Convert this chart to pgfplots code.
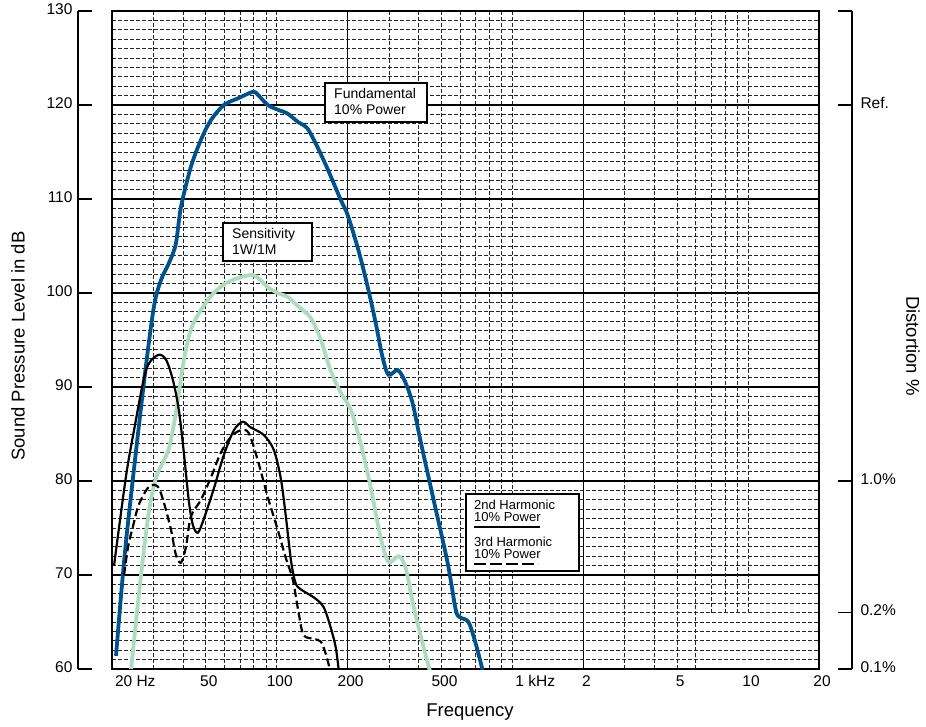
\documentclass[border=0pt]{standalone}
\usepackage{pgfplots}
\pgfplotsset{compat=1.18}
\usepackage{fontspec}
\setmainfont{Liberation Sans}
\definecolor{fundblue}{RGB}{0,82,140}
\definecolor{sensgreen}{RGB}{172,220,190}
\newcommand{\tickfont}{\fontsize{15.5}{18}\selectfont}
\newcommand{\labfont}{\fontsize{18.5}{21}\selectfont}
\newcommand{\boxfont}{\fontsize{14}{16}\selectfont}
\newcommand{\legfont}{\fontsize{13}{13}\selectfont}

\begin{document}
\begin{tikzpicture}
\path (-112pt,-57pt) rectangle (814pt,669pt);
\begin{axis}[
  name=main, at={(0pt,0pt)}, anchor=south west,
  scale only axis, width=707pt, height=658pt,
  xmode=log, xmin=20, xmax=20000, ymin=60, ymax=130,
  xtick={200,2000}, xticklabels={,,},
  minor xtick={30,40,50,60,70,80,90,100,300,400,500,600,700,800,900,1000,3000,4000,5000,6000},
  extra x ticks={20,50,100,200,500,1000,2000,5000,10000,20000},
  extra x tick labels={\rlap{20 Hz},50,100,200,500,\rlap{1 kHz},2,5,10,20},
  extra x tick style={grid=none},
  xticklabel style={font=\tickfont, xshift=3pt, yshift=-3pt},
  ytick={60,70,...,130}, yticklabels={,,},
  minor y tick num=9,
  major tick length=0pt, minor tick length=0pt,
  grid=both,
  major grid style={black, line width=1.1pt},
  minor grid style={black!85, line width=0.8pt, dash pattern=on 4pt off 2pt},
  axis line style={line width=2.6pt},
]
\draw[black!85, line width=0.8pt, dash pattern=on 4pt off 2pt]
  (axis cs:7000,66) -- (axis cs:7000,130)
  (axis cs:8000,66) -- (axis cs:8000,130)
  (axis cs:9000,66) -- (axis cs:9000,130)
  (axis cs:10000,66) -- (axis cs:10000,130);
% Sensitivity 1W/1M
\addplot[sensgreen, line width=3.8pt, smooth] coordinates {
(24.1,60) (26.5,69.8) (28.7,76.8) (30.9,80.5) (34.7,83.3) (37.3,87.2) (40.2,92.6)
(43.2,96.1) (47.7,98.2) (54.1,100.0) (62.6,101.2) (79.2,101.9) (91.6,100.6)
(101,100.0) (111,99.6) (123,98.6) (139,97.4) (154,95.0) (169,91.8) (187,89.4)
(206,87.6) (227,84.0) (250,79.4) (276,74.0) (298,71.4) (329,72.0) (352,70.8)
(381,66.6) (420,62.3) (449,59.6)};
% Fundamental 10% power
\addplot[fundblue, line width=3.8pt, smooth] coordinates {
(20.8,61.4) (22.9,73.4) (27.3,90.4) (30.1,98.5) (32.3,101.4) (34.9,103.2)
(37.3,105.2) (39.2,109.1) (43.2,113.4) (47.7,116.3) (52.6,118.4) (59.7,120.0)
(68.4,120.7) (79.2,121.4) (83.1,121.1) (91.6,120.0) (101,119.5) (111,119.1)
(123,118.2) (135,117.5) (149,115.5) (165,113.1) (187,109.9) (200,108.3)
(223,104.4) (245,100.3) (263,96.8) (281,93.2) (298,91.3) (326,91.8) (350,90.6)
(377,88.3) (408,84.2) (463,78.0) (531,71.3) (575,66.3) (600,65.5) (651,65.0)
(697,62.8) (747,59.9)};
% 2nd harmonic
\addplot[black, line width=2.2pt, smooth] coordinates {
(20.4,71.0) (22.9,80.4) (24.8,85.4) (27.9,91.8) (31.3,93.4) (33.9,92.9)
(36.3,90.7) (38.4,87.6) (40.2,83.4) (42.4,77.8) (44.1,75.3) (46.3,74.5)
(49.1,76.0) (54.1,79.2) (59.7,82.8) (65.8,85.4) (71.8,86.3) (77.6,85.7)
(88.1,84.9) (97.2,83.3) (104,80.3) (109,76.5) (115,71.5) (120,69.2) (126,68.5)
(144,67.6) (158,66.6) (169,64.5) (178,62.3) (183,60.0)};
% 3rd harmonic
\addplot[black, line width=2.2pt, smooth, dash pattern=on 8pt off 4pt] coordinates {
(22.5,70.0) (23.4,73.0) (24.5,75.1) (26.0,77.5) (28.7,79.4) (31.3,79.4)
(33.2,77.7) (35.6,74.8) (37.3,72.2) (39.2,71.3) (41.2,73.0) (43.2,76.2)
(47.7,78.0) (52.6,80.4) (57.9,83.0) (63.9,84.7) (70.4,85.4) (76.1,85.1)
(83.1,82.2) (91.6,78.3) (101,74.8) (109,71.9) (117,69.5) (124,65.9)
(130,63.6) (144,63.2) (154,62.9) (161,61.7) (168,60.0)};
\end{axis}

% left dB scale
\begin{axis}[
  at={(-34pt,0pt)}, anchor=south west,
  scale only axis, width=14pt, height=658pt,
  xmin=0, xmax=1, ymin=60, ymax=130,
  axis x line=none, axis y line=left,
  axis line style={-, line width=1.2pt},
  ytick={60,70,...,130},
  yticklabels={60,70,80,90,100,110,120,130},
  tick align=inside, major tick length=14pt,
  tick style={line width=1.2pt, black},
  yticklabel style={font=\tickfont, xshift=-2pt, yshift=2pt},
]
\end{axis}

% right distortion scale
\begin{axis}[
  at={(726pt,0pt)}, anchor=south west,
  scale only axis, width=14pt, height=658pt,
  xmin=0, xmax=1, ymin=60, ymax=130,
  axis x line=none, axis y line=right,
  axis line style={-, line width=1.2pt},
  ytick={60,66.0206,80,120,130},
  yticklabels={0.1\%,0.2\%,1.0\%,Ref.,{}},
  tick align=inside, major tick length=14pt,
  tick style={line width=1.2pt, black},
  yticklabel style={font=\tickfont, xshift=5pt, yshift=2pt},
]
\end{axis}

% axis titles
\node[font=\labfont] at (358pt,-43pt) {Frequency};
\node[font=\labfont, rotate=90] at (-94pt,323pt) {Sound Pressure Level in dB};
\node[font=\labfont, rotate=-90] at (801pt,323pt) {Distortion \%};

% annotation boxes
\draw[line width=2pt, fill=white] (213pt,547pt) rectangle (315pt,586pt);
\node[font=\boxfont, anchor=base west, inner sep=0pt] at (222pt,570pt) {Fundamental};
\node[font=\boxfont, anchor=base west, inner sep=0pt] at (222pt,554pt) {10\% Power};

\draw[line width=2pt, fill=white] (111pt,408pt) rectangle (200pt,446pt);
\node[font=\boxfont, anchor=base west, inner sep=0pt] at (120pt,430pt) {Sensitivity};
\node[font=\boxfont, anchor=base west, inner sep=0pt] at (120pt,414pt) {1W/1M};

% legend
\draw[line width=2.2pt, fill=white] (354pt,98pt) rectangle (467pt,175pt);
\node[font=\legfont, anchor=base west, inner sep=0pt] at (362pt,160pt) {2nd Harmonic};
\node[font=\legfont, anchor=base west, inner sep=0pt] at (362pt,148pt) {10\% Power};
\draw[line width=2.6pt] (362pt,142pt) -- (428pt,142pt);
\node[font=\legfont, anchor=base west, inner sep=0pt] at (362pt,123pt) {3rd Harmonic};
\node[font=\legfont, anchor=base west, inner sep=0pt] at (362pt,111pt) {10\% Power};
\draw[line width=2.6pt, dash pattern=on 12pt off 4pt] (362pt,105pt) -- (426pt,105pt);
\end{tikzpicture}
\end{document}
